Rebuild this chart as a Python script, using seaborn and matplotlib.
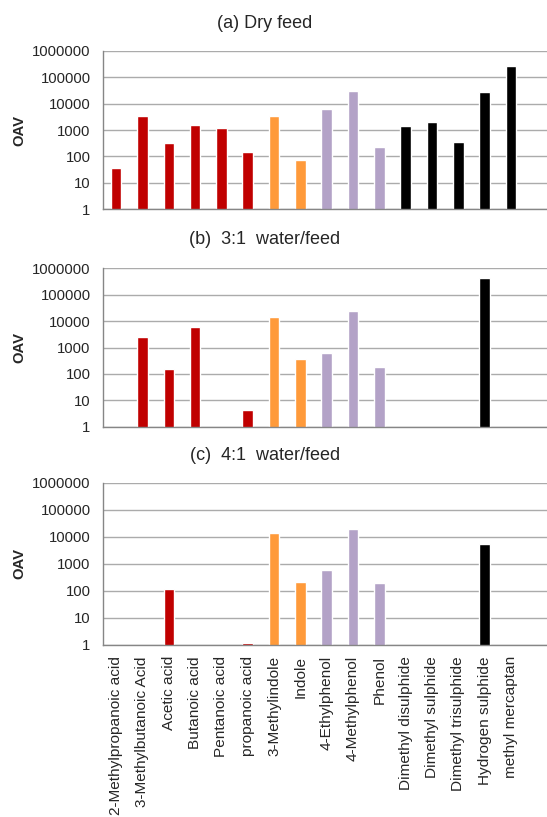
import numpy as np
import pandas as pd
import matplotlib
matplotlib.use("Agg")
import matplotlib.pyplot as plt
import seaborn as sns

compounds = ["2-Methylpropanoic acid", "3-Methylbutanoic Acid", "Acetic acid",
             "Butanoic acid", "Pentanoic acid", "propanoic acid", "3-Methylindole",
             "Indole", "4-Ethylphenol", "4-Methylphenol", "Phenol",
             "Dimethyl disulphide", "Dimethyl sulphide", "Dimethyl trisulphide",
             "Hydrogen sulphide", "methyl mercaptan"]
groups = ["acid"] * 6 + ["indole"] * 2 + ["phenol"] * 3 + ["sulphur"] * 5
nan = np.nan
oav_dry = [37, 3400, 320, 1600, 1230, 150, 3400, 73, 6200, 30000, 230,
           1400, 2000, 350, 27500, 264000]
oav_31 = [nan, 2600, 153, 6000, nan, 4.3, 14000, 365, 620, 24000, 188,
          nan, nan, nan, 427000, nan]
oav_41 = [nan, nan, 120, nan, nan, 1.15, 13700, 212, 590, 19300, 195,
          nan, nan, nan, 5400, nan]
titles = ["(a) Dry feed", "(b)  3:1  water/feed", "(c)  4:1  water/feed"]
yticks = [1, 10, 100, 1000, 10000, 100000, 1000000]
ytick_labels = ["1", "10", "100", "1000", "10000", "100000", "1000000"]

group_colors = {"acid": "#C00000", "indole": "#FF9A3A",
                "phenol": "#B3A2C7", "sulphur": "#000000"}
palette = {c: group_colors[g] for c, g in zip(compounds, groups)}

sns.set_theme(style="white")
plt.rcParams["font.family"] = ["Liberation Sans", "DejaVu Sans"]
FS = 10.7

W, H = 547, 817
fig = plt.figure(figsize=(W / 100, H / 100), dpi=100)

# (top px, bottom px, title center y px)
panels = [(50.7, 209.3, 23), (268.3, 426.7, 240), (482.7, 645, 456)]
data_sets = [oav_dry, oav_31, oav_41]

left_px = 103
spacing = 26.32
xmax = -0.5 + (W - left_px) / spacing

for i, ((top, bot, ty), vals, title) in enumerate(zip(panels, data_sets, titles)):
    ax = fig.add_axes([left_px / W, 1 - bot / H, 1 - left_px / W, (bot - top) / H])
    ax.set_yscale("log")
    df = pd.DataFrame({"compound": compounds, "OAV": vals})
    sns.barplot(data=df, x="compound", y="OAV", hue="compound", order=compounds,
                hue_order=compounds, palette=palette, legend=False, width=0.4,
                ax=ax, saturation=1, errorbar=None)
    ax.set_ylim(1, 1000000)
    ax.set_xlim(-0.5, xmax)
    ax.set_yticks(yticks)
    ax.set_yticklabels(ytick_labels, fontsize=FS)
    ax.minorticks_off()
    ax.yaxis.grid(True, color="#ABABAB", linewidth=1.0)
    ax.set_axisbelow(True)
    ax.tick_params(axis="y", length=0, pad=9)
    ax.set_ylabel("")
    ax.set_xlabel("")
    for s in ["top", "right"]:
        ax.spines[s].set_visible(False)
    for s in ["left", "bottom"]:
        ax.spines[s].set_color("#868686")
        ax.spines[s].set_linewidth(1.0)
    ax.set_xticks(range(len(compounds)))
    if i < 2:
        ax.set_xticklabels([])
        ax.tick_params(axis="x", length=0)
    else:
        ax.set_xticklabels(compounds, rotation=90, fontsize=11.1, ha="center", va="top")
        ax.tick_params(axis="x", length=0, pad=8)
    fig.text(265 / W, 1 - ty / H, title, ha="center", va="center", fontsize=13)
    fig.text(19 / W, 1 - (top + bot) / 2 / H, "OAV", rotation=90, ha="center",
             va="center", fontsize=FS, fontweight="bold")

fig.savefig("out.png", dpi=100)
